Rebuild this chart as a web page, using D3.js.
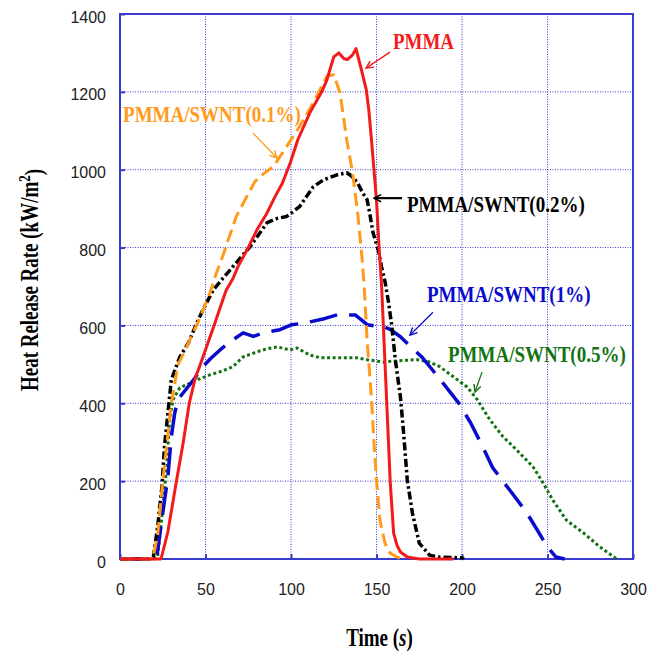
<!DOCTYPE html>
<html lang="en">
  <head>
    <meta charset="UTF-8" />
    <title>Heat Release Rate</title>
    <style>
      body {
        margin: 0;
        background: #fff;
      }
      .tick-label {
        font-family: 'Liberation Sans', Arial, sans-serif;
        font-size: 16px;
        fill: #222;
      }
      .title {
        font-family: 'Liberation Serif', 'Times New Roman', serif;
        font-weight: bold;
        fill: #000;
      }
      .note {
        font-family: 'Liberation Serif', 'Times New Roman', serif;
        font-weight: bold;
        font-size: 19px;
      }
    </style>
  </head>
  <body>
    <div id="chart"></div>

    <script src="https://d3js.org/d3.v7.min.js"></script>
    <script>
      // [time (s), HRR (kW/m2)]
      const pmma = [
        [0, 0], [20, 0], [24, 0], [28, 70], [33, 200], [37, 300], [40.5, 400], [44, 465],
        [47, 500], [51, 550], [55, 600], [62, 690], [66, 720], [69, 751], [75, 800],
        [80, 845], [86, 889], [90, 925], [95, 966], [99.6, 1018], [104, 1077], [111, 1146],
        [116, 1185], [118, 1200], [121, 1231], [125, 1290], [128, 1300], [131, 1285],
        [133, 1283], [136, 1295], [138, 1311], [141, 1260], [144, 1206], [145.5, 1154],
        [147, 1080], [148.5, 1000], [150, 922], [151.5, 800], [153, 700], [154, 600],
        [155, 500], [156, 400], [157, 300], [158, 200], [160, 67], [162, 35], [164, 18],
        [168, 5], [175, 0], [195, 0]
      ];
      const swnt01 = [
        [0, 0], [19, 0], [22, 60], [25, 200], [28, 320], [30, 400], [34, 500], [39, 545],
        [47, 622], [52.6, 684], [56, 730], [60, 777], [68, 880], [74, 930], [79, 970],
        [84, 990], [89.7, 1008], [97.5, 1060], [105, 1111], [113, 1172], [121, 1240],
        [125, 1244], [128.7, 1197], [132.6, 1077], [136, 992], [139, 889], [142, 751],
        [143, 684], [144.5, 563], [147, 417], [148.5, 300], [150, 203], [152, 100],
        [155, 40], [158, 15], [162, 5], [165, 0]
      ];
      const swnt02 = [
        [0, 0], [17, 0], [19.5, 5], [22, 82], [24.5, 185], [26, 288], [28, 375], [30, 460],
        [35, 519], [40, 555], [45, 607], [48.5, 640], [54.5, 691], [60, 720], [66, 751],
        [76, 802], [86, 864], [92, 875], [97.5, 880], [105, 905], [113, 956], [119, 974],
        [127, 987], [132.6, 992], [135, 985], [138.6, 969], [142, 940], [144.5, 923],
        [146, 889], [148, 838], [151, 794], [153, 750], [155, 712], [157, 660], [159, 597],
        [161, 512], [164, 416], [165.7, 332], [168, 203], [171, 118], [175, 41], [181, 10],
        [186, 5], [200, 3], [201, 0]
      ];
      const swnt1 = [
        [0, 0], [20, 0], [21.5, 5], [25, 118], [28, 211], [30, 314], [32, 375], [34, 410],
        [37, 427], [43, 460], [48.5, 494], [53, 515], [58.5, 537], [65, 560], [72, 581],
        [78, 572], [84, 581], [93.5, 589], [100.5, 602], [106, 605], [111, 609], [120, 618],
        [127, 627], [133, 627], [137.5, 627], [141, 615], [144.5, 602], [150, 598],
        [154, 597], [158, 590], [164, 571], [170, 545], [176.5, 519], [186, 468], [198, 401],
        [205, 350], [212.5, 285], [218, 234], [230, 165], [238, 118], [247.5, 49],
        [252, 20], [255, 5], [260, 0]
      ];
      const swnt05 = [
        [0, 0], [20, 0], [22, 5], [25, 130], [27.5, 247], [29, 357], [31, 409], [35, 440],
        [45, 460], [52.6, 473], [60, 483], [66, 494], [72, 519], [80, 532], [86, 540],
        [91.8, 545], [99.4, 537], [103.5, 542], [111, 524], [117, 517], [124.6, 517],
        [138.6, 517], [144.5, 512], [154, 506], [165, 510], [173.7, 512], [181, 506],
        [187, 494], [195, 468], [203, 442], [209, 409], [216.4, 357], [224, 314], [232, 280],
        [241.5, 237], [247.5, 195], [253, 152], [261, 100], [271, 67], [280.7, 31],
        [289.5, 3], [291, 0]
      ];

      const xTicks = [0, 50, 100, 150, 200, 250, 300];
      const yTicks = [0, 200, 400, 600, 800, 1000, 1200, 1400];

      // label: text anchor [t, v], arrow from [t, v] to [t, v]
      const series = [
        { name: 'PMMA/SWNT(0.5%)', data: swnt05, color: '#137313', width: 3, dash: '3,2.6',
          label: [191.8, 506], arrow: [[211.7, 480], [207.6, 429]] },
        { name: 'PMMA/SWNT(1%)', data: swnt1, color: '#0a0acc', width: 3.5, dash: '28,12',
          label: [179.5, 660], arrow: [[183, 634], [169.6, 575]] },
        { name: 'PMMA/SWNT(0.2%)', data: swnt02, color: '#000', width: 3.5, dash: '8,3,2.5,3',
          label: [167.8, 891], arrow: [[164.9, 927], [148.5, 927]] },
        { name: 'PMMA/SWNT(0.1%)', data: swnt01, color: '#ff9a1a', width: 3, dash: '13,6',
          label: [1.8, 1122], arrow: [[77.8, 1094], [91.8, 1030]] },
        { name: 'PMMA', data: pmma, color: '#f21a1a', width: 3, dash: null,
          label: [159.6, 1310], arrow: [[157.9, 1302], [143.9, 1261]] }
      ];

      const W = 661, H = 653;
      const mLeft = 120, mRight = 633, mTop = 14, mBottom = 559;
      const frameColor = '#3a3acc';

      const svg = d3.select('#chart').append('svg').attr('width', W).attr('height', H);

      const x = d3.scaleLinear().domain([0, 300]).range([mLeft, mRight]);
      const y = d3.scaleLinear().domain([0, 1400]).range([mBottom, mTop]);

      // grid
      svg.append('g')
        .selectAll('line')
        .data(xTicks.slice(1, -1))
        .join('line')
        .attr('x1', (d) => x(d)).attr('x2', (d) => x(d))
        .attr('y1', mTop).attr('y2', mBottom)
        .attr('stroke', frameColor).attr('stroke-width', 1).attr('stroke-dasharray', '1,1.5');
      svg.append('g')
        .selectAll('line')
        .data(yTicks.slice(1, -1))
        .join('line')
        .attr('y1', (d) => y(d)).attr('y2', (d) => y(d))
        .attr('x1', mLeft).attr('x2', mRight)
        .attr('stroke', frameColor).attr('stroke-width', 1).attr('stroke-dasharray', '1,1.5');

      // axes (labels and short ticks, frame drawn separately)
      const xAxis = svg.append('g')
        .attr('transform', `translate(0,${mBottom})`)
        .call(d3.axisBottom(x).tickValues(xTicks).tickFormat(d3.format('d')).tickSize(-5).tickPadding(25));
      const yAxis = svg.append('g')
        .attr('transform', `translate(${mLeft},0)`)
        .call(d3.axisLeft(y).tickValues(yTicks).tickFormat(d3.format('d')).tickSize(-5).tickPadding(14));
      [xAxis, yAxis].forEach((a) => {
        a.select('.domain').remove();
        a.selectAll('line').attr('stroke', frameColor).attr('stroke-width', 2);
        a.selectAll('text').attr('class', 'tick-label');
        a.attr('font-family', null).attr('font-size', null);
      });
      yAxis.selectAll('text').attr('dy', '0.5em');

      svg.append('rect')
        .attr('x', mLeft).attr('y', mTop)
        .attr('width', mRight - mLeft).attr('height', mBottom - mTop)
        .attr('fill', 'none').attr('stroke', frameColor).attr('stroke-width', 2);

      // curves
      const line = d3.line().x((d) => x(d[0])).y((d) => y(d[1]));
      svg.append('g')
        .selectAll('path')
        .data(series)
        .join('path')
        .attr('d', (d) => line(d.data))
        .attr('fill', 'none')
        .attr('stroke', (d) => d.color)
        .attr('stroke-width', (d) => d.width)
        .attr('stroke-dasharray', (d) => d.dash)
        .attr('stroke-linejoin', 'round');

      // arrowheads
      const defs = svg.append('defs');
      series.forEach((s, i) => {
        defs.append('marker')
          .attr('id', 'ah' + i)
          .attr('viewBox', '0 0 10 10')
          .attr('refX', 9).attr('refY', 5)
          .attr('markerWidth', 9).attr('markerHeight', 9)
          .attr('markerUnits', 'userSpaceOnUse')
          .attr('orient', 'auto')
          .append('path')
          .attr('d', 'M1,1 L9,5 L1,9')
          .attr('fill', 'none')
          .attr('stroke', s.color)
          .attr('stroke-width', 1.6);
      });

      // annotations
      series.forEach((s, i) => {
        svg.append('line')
          .attr('x1', x(s.arrow[0][0])).attr('y1', y(s.arrow[0][1]))
          .attr('x2', x(s.arrow[1][0])).attr('y2', y(s.arrow[1][1]))
          .attr('stroke', s.color)
          .attr('stroke-width', i === 2 ? 2.2 : 1.3)
          .attr('marker-end', `url(#ah${i})`);
        svg.append('text')
          .attr('class', 'note')
          .attr('transform', `translate(${x(s.label[0])},${y(s.label[1])}) scale(1,1.25)`)
          .attr('fill', s.color)
          .text(s.name);
      });

      // axis titles
      svg.append('text')
        .attr('class', 'title')
        .attr('transform', `translate(${(mLeft + mRight) / 2 + 3},646) scale(1,1.3)`)
        .attr('text-anchor', 'middle')
        .style('font-size', '19px')
        .html('Time (<tspan font-style="italic">s</tspan>)');

      const yt = svg.append('text')
        .attr('class', 'title')
        .attr('transform', 'translate(38,280) rotate(-90) scale(1,1.3)')
        .attr('text-anchor', 'middle')
        .style('font-size', '19px');
      yt.append('tspan').text('Heat Release Rate (kW/m');
      yt.append('tspan').attr('dy', '-0.45em').style('font-size', '13px').text('2');
      yt.append('tspan').attr('dy', '0.45em').text(')');
    </script>
  </body>
</html>
